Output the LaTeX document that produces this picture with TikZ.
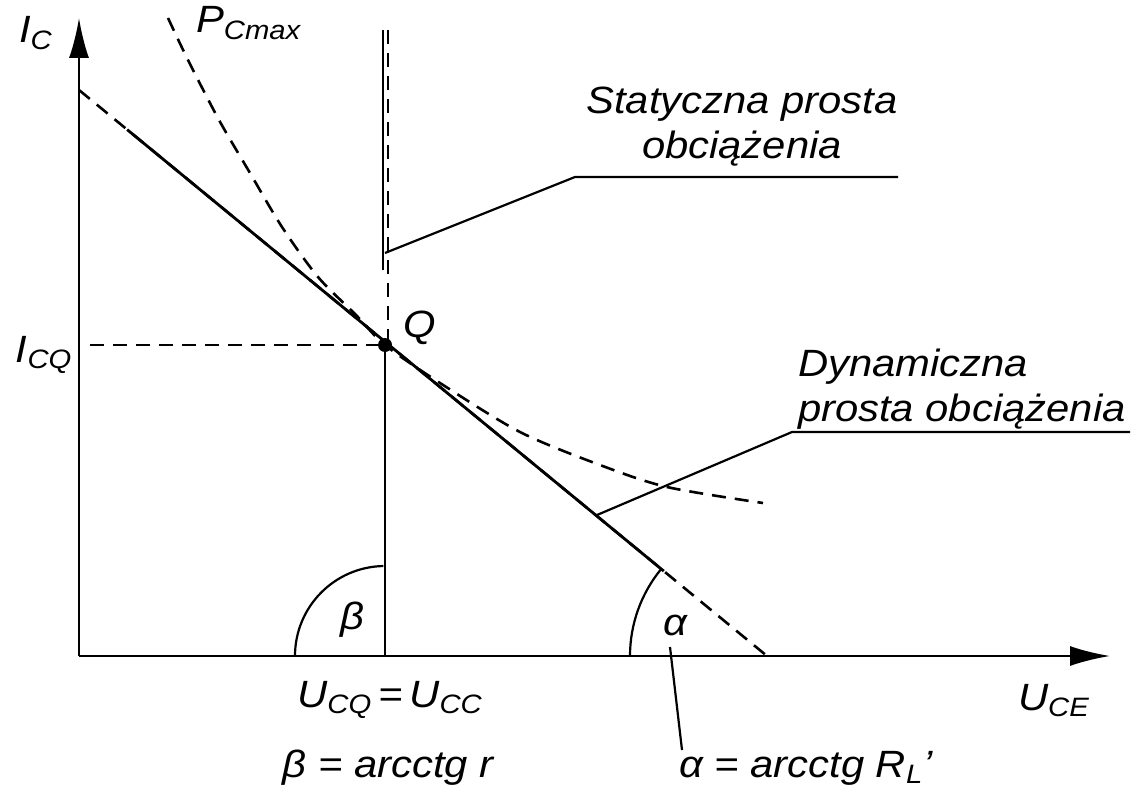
\documentclass[tikz,border=0pt]{standalone}
\usepackage{fontspec}
\setmainfont{Liberation Sans}[FakeStretch=1.1]
\usetikzlibrary{arrows.meta,calc}

\begin{document}
\begin{tikzpicture}[x=0.5pt, y=0.5pt, line width=1pt,
    font=\fontsize{19}{22.5}\selectfont\itshape,
    axis/.style={line width=1.1pt, -{Latex[length=20pt,width=10pt]}},
    solidline/.style={line width=1.4pt},
    dashline/.style={line width=1.3pt, dash pattern=on 7pt off 4.5pt},
    leader/.style={line width=1.1pt},
    lbl/.style={inner sep=0pt}]

        \useasboundingbox (0,0) rectangle (1144,799);

        % --- Osie ---
        \coordinate (O) at (79,143);
        \draw[axis] (O) -- (79,781) coordinate (ytip);
        \draw[axis] (O) -- (1110,143) coordinate (xtip);

        % --- Punkt pracy Q ---
        \coordinate (Q) at (385,454);
        \coordinate (Uq) at (Q |- O);

        % --- Dynamiczna prosta obciazenia ---
        \coordinate (A) at (79,709);
        \coordinate (B) at (767,143);
        \draw[dashline] (A) -- (B);
        \draw[solidline] ($(A)!0.07!(B)$) -- ($(A)!0.85!(B)$);

        % --- Statyczna prosta obciazenia (pionowa) ---
        \draw[leader] (383,769) -- (383,529);
        \draw[dashline] (388,769) -- (388,454);
        \draw[solidline] (Q) -- (Uq);

        % --- I_CQ (przerywana) ---
        \draw[dashline] (90,454) -- (Q);

        % --- Hiperbola P_Cmax ---
        \draw[dashline] plot[smooth] coordinates {(168,781) (188,739) (219,679)
            (250,626) (282,572) (318,522) (356,484) (385,454) (440,416)
            (520,367) (600,334) (667,312) (763,296)};

        \fill (Q) circle (7);

        % --- Katy alfa i beta ---
        \draw[leader] ($(Uq)+(-90,0)$) arc[start angle=180, end angle=91, radius=90];
        \draw[leader] ($(B)+(-137,0)$) arc[start angle=180, end angle=140.6, radius=137];
        \node[lbl] (lBeta) at (352,179) {β};
        \node[lbl] (lAlpha) at (675,174) {α};

        % --- Opisy osi ---
        \node[lbl, anchor=base west] (lIC) at (18,756) {I\textsubscript{C}};
        \node[lbl, anchor=base west] (lUCE) at (1017,89) {U\textsubscript{CE}};
        \node[lbl, anchor=base west] (lPC) at (195,766) {P\textsubscript{Cmax}};
        \node[lbl, anchor=base west] (lICQ) at (15,437) {I\textsubscript{CQ}};
        \node[lbl, anchor=base west] (lQ) at (402,462) {Q};

        % --- Wzory pod osia ---
        \node[lbl, anchor=base] (lUCQ) at (390,92) {U\textsubscript{CQ}\,=\,U\textsubscript{CC}};
        \node[lbl, anchor=base] (lBetaEq) at (388,22) {β = arcctg r};
        \node[lbl, anchor=base west] (lAlphaEq) at (678,22) {α = arcctg R\textsubscript{L}'};
        \draw[leader] (670,152) -- (682,49);

        % --- Statyczna prosta ---
        \node[lbl, align=center] (lStat) at (742,672) {Statyczna prosta\\obciążenia};
        \draw[leader] (385,546) -- (575,622) coordinate (sK) -- (898,622);

        % --- Dynamiczna prosta ---
        \node[lbl, align=left, anchor=west] (lDyn) at (797,410) {Dynamiczna\\prosta obciążenia};
        \draw[leader] (597,284) -- (792,367) coordinate (dK) -- (1130,367);

\end{tikzpicture}
\end{document}
